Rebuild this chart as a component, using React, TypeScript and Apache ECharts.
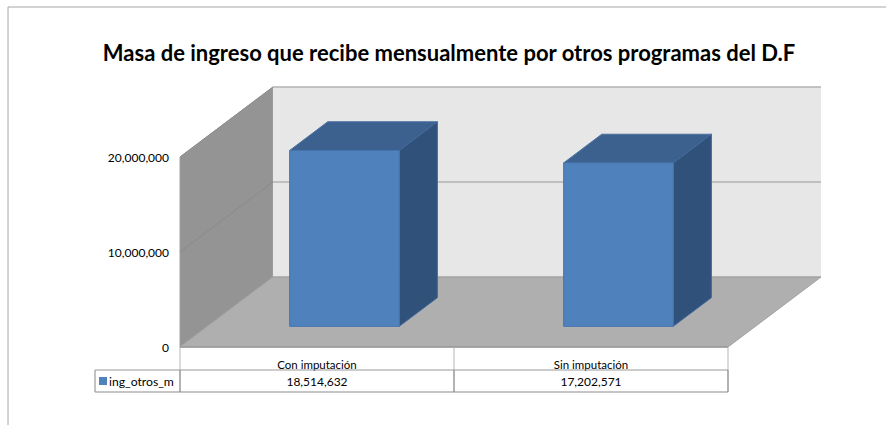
import React, { useEffect, useRef } from "react";
import * as echarts from "echarts";

const titleText = "Masa de ingreso que recibe mensualmente por otros programas del D.F";
const seriesName = "ing_otros_m";
const categories = ["Con imputación", "Sin imputación"];
const values = [18514632, 17202571];
const axisTicks = [0, 10000000, 20000000];
const axisMax = 20000000;

const FONT = "Lato";
const fmt = (v: number) => v.toLocaleString("en-US");

// oblique projection of the 3-D box
const DEPTH_X = 93;
const DEPTH_Y = -70;
const BAR_NEAR = 0.295;
const BAR_FAR = 0.705;
const BAR_WIDTH_RATIO = 0.4;

const poly = (points: number[][], fill: string, stroke?: string, lineWidth = 1) => ({
  type: "polygon",
  shape: { points },
  style: { fill, stroke: stroke || "none", lineWidth },
  silent: true,
});
const seg = (a: number[], b: number[], stroke: string, lineWidth = 1) => ({
  type: "line",
  shape: { x1: a[0], y1: a[1], x2: b[0], y2: b[1] },
  style: { stroke, lineWidth, fill: "none" },
  silent: true,
});

const renderWalls = (params: any, api: any) => {
  const g = params.coordSys;
  const L = g.x;
  const R = g.x + g.width;
  const y0 = api.coord([0, 0])[1];
  const yT = api.coord([0, axisMax])[1];
  const children: any[] = [
    poly([[L, y0], [L + DEPTH_X, y0 + DEPTH_Y], [L + DEPTH_X, yT + DEPTH_Y], [L, yT]], "#949494", "#a0a0a0"),
    poly([[L + DEPTH_X, y0 + DEPTH_Y], [R + DEPTH_X, y0 + DEPTH_Y], [R + DEPTH_X, yT + DEPTH_Y], [L + DEPTH_X, yT + DEPTH_Y]], "#e7e7e7"),
    poly([[L, y0], [R, y0], [R + DEPTH_X, y0 + DEPTH_Y], [L + DEPTH_X, y0 + DEPTH_Y]], "#afafaf", "#a3a3a3"),
  ];
  axisTicks.forEach((t) => {
    if (t === 0) return;
    const y = api.coord([0, t])[1];
    children.push(seg([L, y], [L + DEPTH_X, y + DEPTH_Y], "#8a8a8a"));
    children.push(seg([L + DEPTH_X, y + DEPTH_Y], [R + DEPTH_X, y + DEPTH_Y], "#b2b2b2", 1.5));
  });
  children.push(seg([L + DEPTH_X, y0 + DEPTH_Y], [R + DEPTH_X, y0 + DEPTH_Y], "#a3a3a3"));
  children.push(seg([L, y0], [R, y0], "#999999", 1.5));
  return { type: "group", children };
};

const renderBar = (params: any, api: any) => {
  const i = api.value(0);
  const base = api.coord([i, 0]);
  const top = api.coord([i, api.value(1)]);
  const w = api.size([1, 0])[0] * BAR_WIDTH_RATIO;
  const nx = DEPTH_X * BAR_NEAR;
  const ny = DEPTH_Y * BAR_NEAR;
  const fx = DEPTH_X * (BAR_FAR - BAR_NEAR);
  const fy = DEPTH_Y * (BAR_FAR - BAR_NEAR);
  const l = base[0] - w / 2 + nx;
  const r = base[0] + w / 2 + nx;
  const t = top[1] + ny;
  const b = base[1] + ny;
  return {
    type: "group",
    children: [
      poly([[l, t], [r, t], [r + fx, t + fy], [l + fx, t + fy]], "#3c618f", "#4a70a0"),
      poly([[r, t], [r + fx, t + fy], [r + fx, b + fy], [r, b]], "#30527a", "#43689a"),
      poly([[l, t], [r, t], [r, b], [l, b]], "#4f81bd", "#4675ad"),
    ],
  };
};

const renderTable = (params: any, api: any) => {
  const i = api.value(0);
  const g = params.coordSys;
  const c = api.coord([i, 0]);
  const band = api.size([1, 0])[0];
  const l = c[0] - band / 2;
  const r = c[0] + band / 2;
  const yA = g.y + g.height;
  const yB = yA + 23;
  const yC = yA + 45;
  const children: any[] = [
    seg([r, yA], [r, yB], "#b5b5b5"),
    seg([l, yB], [r, yB], "#9a9a9a", 1.2),
    seg([l, yC], [r, yC], "#8c8c8c", 1.2),
    seg([r, yB], [r, yC], "#7f7f7f", 1.2),
    {
      type: "text",
      x: c[0],
      y: (yB + yC) / 2,
      style: { text: fmt(api.value(1)), fill: "#000", font: `12px ${FONT}`, align: "center", verticalAlign: "middle" },
      silent: true,
    },
  ];
  if (i === 0) {
    children.push(seg([l, yA], [l, yB], "#b5b5b5"));
    children.push(seg([l, yB], [l, yC], "#7f7f7f", 1.2));
    children.push(seg([l - 85, yB], [l, yB], "#9a9a9a", 1.2));
    children.push(seg([l - 85, yC], [l, yC], "#8c8c8c", 1.2));
    children.push(seg([l - 85, yB], [l - 85, yC], "#9a9a9a", 1.2));
  }
  return { type: "group", children };
};

export default function App() {
  const ref = useRef<HTMLDivElement>(null);
  useEffect(() => {
    document.body.style.margin = "0";
    const chart = echarts.init(ref.current!, null, { renderer: "svg" });
    chart.setOption({
      animation: false,
      backgroundColor: "#ffffff",
      title: {
        text: titleText,
        left: 444,
        top: 36,
        textAlign: "center",
        textStyle: { fontFamily: FONT, fontWeight: "bold", fontSize: 22, color: "#000" },
      },
      legend: {
        data: [{ name: seriesName, icon: "rect" }],
        left: 99,
        top: 375,
        itemWidth: 8,
        itemHeight: 8,
        itemGap: 2,
        padding: 0,
        textStyle: { fontFamily: FONT, fontSize: 12.2, color: "#000", padding: [0, 0, 0, -3] },
      },
      grid: { left: 180, top: 157, width: 548, height: 190 },
      xAxis: {
        type: "category",
        data: categories,
        axisLine: { show: false },
        axisTick: { show: false },
        axisLabel: { margin: 11, fontFamily: FONT, fontSize: 11.5, color: "#000" },
      },
      yAxis: {
        type: "value",
        min: 0,
        max: axisMax,
        interval: 10000000,
        axisLine: { show: false },
        axisTick: { show: false },
        splitLine: { show: false },
        axisLabel: { margin: 11, fontFamily: FONT, fontSize: 12, color: "#000", formatter: fmt, padding: [6, 0, 0, 0] },
      },
      series: [
        { type: "custom", name: "walls", renderItem: renderWalls, data: [[0, 0]], clip: false, silent: true, z: 1 },
        { type: "custom", name: "table", renderItem: renderTable, data: categories.map((_, i) => [i, values[i]]), clip: false, silent: true, z: 2 },
        { type: "custom", name: seriesName, renderItem: renderBar, data: categories.map((_, i) => [i, values[i]]), clip: false, silent: true, z: 3, itemStyle: { color: "#4f81bd" } },
      ],
      graphic: [
        { type: "line", shape: { x1: 8, y1: 7, x2: 886, y2: 7 }, style: { stroke: "#a6a6a6", lineWidth: 1 } },
        { type: "line", shape: { x1: 8, y1: 7, x2: 8, y2: 425 }, style: { stroke: "#a6a6a6", lineWidth: 1 } },
      ],
    });
    return () => chart.dispose();
  }, []);
  return <div ref={ref} style={{ width: 886, height: 425, position: "absolute", left: 0, top: 0 }} />;
}
